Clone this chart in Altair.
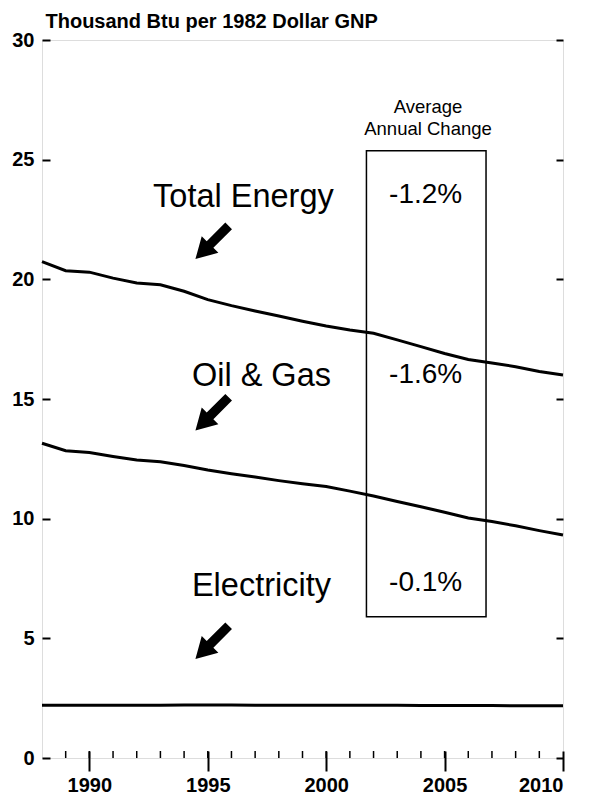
import altair as alt
import pandas as pd

FONT = "Liberation Sans"

years = list(range(1988, 2011))
total_energy = [20.74, 20.36, 20.30, 20.05, 19.85, 19.77, 19.50, 19.15, 18.90, 18.68, 18.47, 18.25,
                18.05, 17.88, 17.75, 17.47, 17.19, 16.90, 16.65, 16.50, 16.35, 16.15, 16.00]
oil_gas = [13.15, 12.84, 12.76, 12.60, 12.45, 12.38, 12.22, 12.03, 11.88, 11.74, 11.59, 11.46,
           11.34, 11.15, 10.95, 10.72, 10.50, 10.27, 10.03, 9.88, 9.70, 9.50, 9.32]
electricity = [2.20, 2.20, 2.20, 2.20, 2.20, 2.20, 2.21, 2.21, 2.21, 2.20, 2.20, 2.20,
               2.20, 2.20, 2.20, 2.20, 2.19, 2.19, 2.19, 2.19, 2.18, 2.18, 2.18]
series_names = ["Total Energy", "Oil & Gas", "Electricity"]

y_ticks = [0, 5, 10, 15, 20, 25, 30]
x_major = [1990, 1995, 2000, 2005, 2010]
x_minor = list(range(1989, 2010))

box_x = [2001.7, 2006.75]
box_y = [5.9, 25.37]

header_lines = ["Average", "Annual Change"]
header_x = [2004.3, 2004.3]
header_y = [27.22, 26.28]

change_labels = ["-1.2%", "-1.6%", "-0.1%"]
change_x = [2004.2, 2004.2, 2004.2]
change_y = [23.53, 16.0, 7.31]

label_x = [1992.69, 1994.33, 1994.33]
label_y = [23.44, 15.96, 7.19]

arrow_x = [1995.18, 1995.18, 1995.18]
arrow_y = [21.54, 14.38, 4.83]

# ---- tables ----
rows = []
for name, vals in zip(series_names, [total_energy, oil_gas, electricity]):
    for yr, v in zip(years, vals):
        rows.append({"year": yr, "value": v, "series": name})
lines_df = pd.DataFrame(rows)
yt_df = pd.DataFrame({"v": y_ticks})
minor_df = pd.DataFrame({"year": x_minor})
box_df = pd.DataFrame({"x1": [box_x[0]], "x2": [box_x[1]], "y1": [box_y[0]], "y2": [box_y[1]]})
head_df = pd.DataFrame({"t": header_lines, "x": header_x, "y": header_y})
chg_df = pd.DataFrame({"t": change_labels, "x": change_x, "y": change_y})
lab_df = pd.DataFrame({"t": series_names, "x": label_x, "y": label_y})
arr_df = pd.DataFrame({"x": arrow_x, "y": arrow_y})

xs = alt.Scale(domain=[1988, 2010], nice=False, zero=False)
ys = alt.Scale(domain=[0, 30], nice=False, zero=True)

x_axis = alt.Axis(
    orient="bottom", values=x_major, format="d", tickSize=20, offset=-7,
    domain=False, grid=False, labelPadding=4, labelFontSize=20,
    labelFontWeight="bold", labelFont=FONT, tickColor="black", tickWidth=2,
    labelColor="black", title=None)


def X(field):
    return alt.X(field, scale=xs, axis=x_axis)


lines = alt.Chart(lines_df).mark_line(color="black", strokeWidth=3).encode(
    x=X("year:Q"),
    y=alt.Y("value:Q", scale=ys, axis=alt.Axis(
        orient="left", values=y_ticks, tickSize=8, offset=-8, domain=False, grid=False,
        labelPadding=8, labelFontSize=20, labelFontWeight="bold", labelFont=FONT,
        labelColor="black", tickColor="black", tickWidth=2,
        title="Thousand Btu per 1982 Dollar GNP", titleAngle=0, titleAlign="left",
        titleBaseline="alphabetic", titleX=-5, titleY=-13, titleFontSize=20,
        titleFontWeight="bold", titleFont=FONT, titleColor="black")),
    detail="series:N",
)

right_axis = alt.Chart(yt_df).mark_point(opacity=0).encode(
    x=alt.value(0),
    y=alt.Y("v:Q", scale=ys, axis=alt.Axis(
        orient="right", values=y_ticks, tickSize=7, offset=-7, domain=False, grid=False,
        labels=False, tickColor="black", tickWidth=2, title=None)),
)

minor = alt.Chart(minor_df).mark_rule(color="black", strokeWidth=1.5).encode(
    x=X("year:Q"),
    y=alt.value(718), y2=alt.value(711),
)

box = alt.Chart(box_df).mark_rect(fillOpacity=0, stroke="black", strokeWidth=1.5).encode(
    x=X("x1:Q"), x2="x2:Q",
    y=alt.Y("y1:Q", scale=ys, axis=None), y2="y2:Q",
)

head = alt.Chart(head_df).mark_text(font=FONT, fontSize=18.5, color="black", baseline="middle").encode(
    x=X("x:Q"), y=alt.Y("y:Q", scale=ys, axis=None), text="t:N")

chg = alt.Chart(chg_df).mark_text(font=FONT, fontSize=28, color="black", baseline="middle").encode(
    x=X("x:Q"), y=alt.Y("y:Q", scale=ys, axis=None), text="t:N")

lab = alt.Chart(lab_df).mark_text(font=FONT, fontSize=32.5, color="black", align="left",
                                  baseline="middle").encode(
    x=X("x:Q"), y=alt.Y("y:Q", scale=ys, axis=None), text="t:N")

ARROW = "M0,-1L0.5,-0.12L0.2,-0.12L0.2,1L-0.2,1L-0.2,-0.12L-0.5,-0.12Z"
arrows = alt.Chart(arr_df).mark_point(shape=ARROW, filled=True, color="black", opacity=1,
                                      size=2209, angle=225, strokeWidth=0).encode(
    x=X("x:Q"), y=alt.Y("y:Q", scale=ys, axis=None))

chart = alt.layer(lines, right_axis, minor, box, head, chg, lab, arrows).resolve_axis(
    y="independent"
).properties(
    width=521, height=718,
    autosize=alt.AutoSizeParams(type="none"),
    padding={"left": 34, "top": 32, "right": 18, "bottom": 36},
).configure_view(stroke="black", strokeWidth=2).configure(background="white")

chart.save("out.html", embed_options={"renderer": "svg", "actions": False})
